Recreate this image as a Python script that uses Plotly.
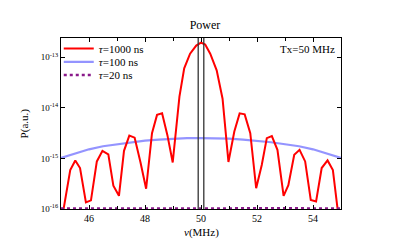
import plotly.graph_objects as go

# ---------------- data ----------------
# tau = 1000 ns spectrum (frequency in MHz, log10 of power)
f_1000 = [45.0, 45.14, 45.33, 45.51, 45.68, 45.89, 46.07, 46.28, 46.48, 46.69,
          46.87, 47.07, 47.25, 47.44, 47.63, 47.84, 48.04, 48.25, 48.43, 48.61,
          48.8, 48.99, 49.23, 49.4, 49.61, 49.83, 50.0, 50.15, 50.33, 50.56,
          50.77, 50.98, 51.19, 51.38, 51.56, 51.76, 51.97, 52.17, 52.35, 52.53,
          52.73, 52.95, 53.12, 53.33, 53.52, 53.72, 53.92, 54.11, 54.31, 54.52,
          54.71, 54.9, 55.0]
logp_1000 = [-16.3, -15.85, -15.23, -15.04, -15.19, -15.87, -15.83, -15.06, -14.85, -14.92,
             -15.54, -15.74, -14.85, -14.55, -14.59, -15.08, -15.6, -14.5, -14.14, -14.11,
             -14.54, -15.08, -13.78, -13.22, -12.93, -12.77, -12.71, -12.75, -12.93, -13.26,
             -13.82, -15.07, -14.47, -14.11, -14.13, -14.5, -15.59, -15.13, -14.6, -14.56,
             -14.83, -15.74, -15.53, -14.93, -14.83, -15.06, -15.82, -15.85, -15.19, -15.04,
             -15.23, -16.1, -16.5]

# tau = 100 ns spectrum
f_100 = [45.0, 45.5, 46.0, 46.5, 47.0, 47.5, 48.0, 48.5, 49.0, 49.5, 50.0,
         50.5, 51.0, 51.5, 52.0, 52.5, 53.0, 53.5, 54.0, 54.5, 55.0]
logp_100 = [-14.99, -14.9, -14.82, -14.76, -14.72, -14.68, -14.65, -14.63, -14.61, -14.6, -14.6,
            -14.6, -14.61, -14.63, -14.65, -14.68, -14.72, -14.76, -14.82, -14.9, -14.99]

# tau = 20 ns spectrum
f_20 = [45.0, 46.0, 47.0, 48.0, 49.0, 50.0, 51.0, 52.0, 53.0, 54.0, 55.0]
logp_20 = [-15.99, -15.988, -15.987, -15.986, -15.985, -15.985, -15.985, -15.986, -15.987, -15.988, -15.99]

# transmitter marker lines (MHz)
tx_lines = [49.9, 50.1]

x_tickvals = [46, 48, 50, 52, 54]
x_ticktext = ["46", "48", "50", "52", "54"]
y_tickvals = [1e-16, 1e-15, 1e-14, 1e-13]
y_ticktext = ["10<sup>-16</sup>", "10<sup>-15</sup>", "10<sup>-14</sup>", "10<sup>-13</sup>"]

p_1000 = [10 ** v for v in logp_1000]
p_100 = [10 ** v for v in logp_100]
p_20 = [10 ** v for v in logp_20]

FONT = "Liberation Serif, Times New Roman, serif"

fig = go.Figure()
fig.add_trace(go.Scatter(x=f_100, y=p_100, mode="lines", name="<i>τ</i>=100 ns",
                         line=dict(color="rgba(60,60,255,0.55)", width=2.2),
                         legend="legend2"))
fig.add_trace(go.Scatter(x=f_1000, y=p_1000, mode="lines", name="<i>τ</i>=1000 ns",
                         line=dict(color="#ff0000", width=2), legend="legend"))
fig.add_trace(go.Scatter(x=f_20, y=p_20, mode="lines", name="<i>τ</i>=20 ns",
                         line=dict(color="#8a1a8a", width=2.5, dash="dot"),
                         legend="legend3"))

for xv in tx_lines:
    fig.add_vline(x=xv, line=dict(color="#333333", width=1.3))

leg_common = dict(xanchor="left", yanchor="middle", bgcolor="rgba(0,0,0,0)",
                  borderwidth=0, font=dict(family=FONT, size=11, color="black"),
                  itemwidth=30)
# page body has an 8px default margin, so the figure is 8px smaller and shifted
fig.update_layout(
    width=394, height=241,
    margin=dict(l=53, r=61, t=30, b=40),
    paper_bgcolor="white", plot_bgcolor="white",
    font=dict(family=FONT, color="black"),
    title=dict(text="Power", x=0.5, xanchor="center", y=0.929, yanchor="middle",
               font=dict(family=FONT, size=12, color="black")),
    showlegend=True,
    legend=dict(x=-0.008, y=0.938, **leg_common),
    legend2=dict(x=-0.008, y=0.860, **leg_common),
    legend3=dict(x=-0.008, y=0.783, **leg_common),
    annotations=[
        dict(text="Tx=50 MHz", xref="paper", yref="paper", x=0.985, y=0.934,
             xanchor="right", yanchor="middle", showarrow=False,
             font=dict(family=FONT, size=11, color="black")),
        dict(text="P(a.u.)", xref="paper", yref="paper", x=-0.129, y=0.5,
             xanchor="center", yanchor="middle", textangle=-90, showarrow=False,
             font=dict(family=FONT, size=11, color="black")),
        dict(text="<i>ν</i>(MHz)", xref="paper", yref="paper", x=0.5, y=-0.138,
             xanchor="center", yanchor="middle", showarrow=False,
             font=dict(family=FONT, size=11, color="black")),
    ],
)
fig.update_xaxes(range=[45, 55], tickvals=x_tickvals, ticktext=x_ticktext,
                 ticks="inside", ticklen=4, tickwidth=1, tickcolor="black",
                 minor=dict(dtick=1, tick0=45, ticks="inside", ticklen=3, tickcolor="black"),
                 showline=True, linecolor="black", linewidth=1.3, mirror="allticks",
                 showgrid=False, zeroline=False,
                 tickfont=dict(family=FONT, size=10, color="black"))
fig.update_yaxes(type="log", range=[-16, -12.62], tickvals=y_tickvals, ticktext=y_ticktext,
                 ticks="inside", ticklen=4, tickwidth=1, tickcolor="black",
                 showline=True, linecolor="black", linewidth=1.3, mirror="allticks",
                 showgrid=False, zeroline=False,
                 tickfont=dict(family=FONT, size=9, color="black"))

fig.write_html("out.html")
